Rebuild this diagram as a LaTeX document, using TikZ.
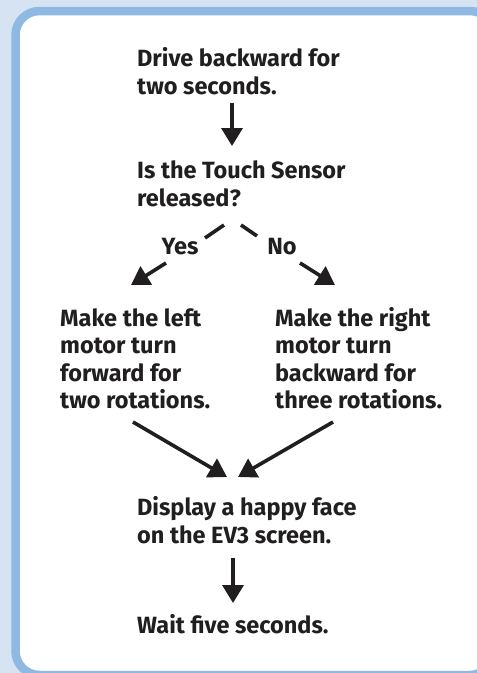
\documentclass[tikz,border=0pt]{standalone}
\usepackage{fontspec}
\setmainfont{Fira Sans}
\usetikzlibrary{arrows.meta}
\definecolor{pagebg}{RGB}{214,227,243}
\definecolor{framec}{RGB}{143,184,226}
\definecolor{inkc}{RGB}{32,30,30}
\begin{document}
\begin{tikzpicture}[x=1pt,y=-1pt,
  txt/.style={anchor=base west, align=left, font=\bfseries\fontsize{23.5}{27.5}\selectfont, text=inkc, inner sep=0pt},
  lbl/.style={font=\bfseries\fontsize{23.5}{27.5}\selectfont, text=inkc, inner sep=0pt},
  flow/.style={draw=inkc, line width=3.6pt, -{Triangle[width=21pt,length=18pt]}},
  seg/.style={draw=inkc, line width=3.6pt}]
\useasboundingbox (0,0) rectangle (477,673);
\clip (0,0) rectangle (477,673);
% page and rounded panel
\fill[pagebg] (0,0) rectangle (477,673);
\draw[framec, line width=8.5pt, fill=white, rounded corners=24pt] (15.5,11) rectangle (494,675);

% steps (anchored at the baseline of each last line)
\node[txt] (drive) at (137,94) {Drive backward for\\two seconds.};
\node[txt] (touch) at (137,206) {Is the Touch Sensor\\released?};
\node[txt] (left) at (60,408.5) {Make the left\\motor turn\\forward for\\two rotations.};
\node[txt] (right) at (275,408.5) {Make the right\\motor turn\\backward for\\three rotations.};
\node[txt] (happy) at (137,543) {Display a happy face\\on the EV3 screen.};
\node[txt] (wait) at (137,633.5) {Wait five seconds.};
\node[lbl] (yes) at (180,247) {Yes};
\node[lbl] (no) at (282,247) {No};

% connector end points
\coordinate (a1s) at (232,103);
\coordinate (a1e) at (232,146);
\coordinate (ys) at (224,225);
\coordinate (ye) at (205,238);
\coordinate (yas) at (166,263);
\coordinate (yae) at (131,285);
\coordinate (ns) at (241,225);
\coordinate (ne) at (257,236);
\coordinate (nas) at (300,263);
\coordinate (nae) at (335,285);
\coordinate (ls) at (133,422);
\coordinate (le) at (227,477);
\coordinate (rs) at (333,422);
\coordinate (re) at (238,477);
\coordinate (a2s) at (233,558);
\coordinate (a2e) at (233,603);

% connectors
\draw[flow] (a1s) -- (a1e);
\draw[seg] (ys) -- (ye);
\draw[flow] (yas) -- (yae);
\draw[seg] (ns) -- (ne);
\draw[flow] (nas) -- (nae);
\draw[flow] (ls) -- (le);
\draw[flow] (rs) -- (re);
\draw[flow] (a2s) -- (a2e);
\end{tikzpicture}
\end{document}
